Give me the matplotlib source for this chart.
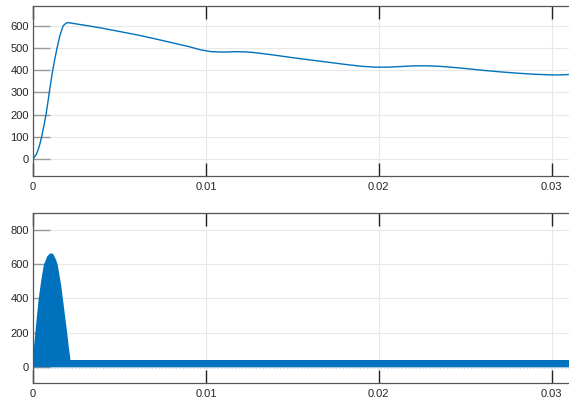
import numpy as np
import matplotlib.pyplot as plt

plt.rcParams['font.family'] = ['Liberation Sans', 'DejaVu Sans']

# top trace: rise then slow decay
t_top = [0, 0.0001, 0.0002, 0.0003, 0.0004, 0.0005, 0.0006, 0.00068, 0.00075, 0.00085,
         0.00094, 0.00104, 0.00114, 0.00126, 0.00139, 0.00155, 0.00174, 0.0019, 0.00203, 0.003,
         0.004, 0.005, 0.006, 0.007, 0.008, 0.009, 0.0097, 0.0103, 0.011, 0.0118,
         0.0125, 0.013, 0.014, 0.015, 0.016, 0.017, 0.018, 0.019, 0.0198, 0.0205,
         0.0213, 0.022, 0.0228, 0.0235, 0.024, 0.025, 0.026, 0.027, 0.028, 0.029,
         0.030, 0.0305, 0.031]
v_top = [0, 10, 22, 42, 68, 100, 138, 170, 200, 250,
         300, 350, 400, 450, 500, 555, 600, 612, 615, 603,
         590, 575, 560, 543, 525, 507, 492, 484, 482, 484,
         482, 478, 468, 457, 447, 437, 427, 418, 414, 414,
         417, 420, 420, 418, 415, 408, 400, 393, 387, 382,
         379, 379, 381]

# bottom trace: switching signal envelope
t_env = [0, 0.00015, 0.0003, 0.00045, 0.0006, 0.0008, 0.00095, 0.00104, 0.00115, 0.0013,
         0.0014, 0.0016, 0.0017, 0.00185, 0.00195, 0.00205, 0.00214, 0.031]
v_env = [90, 250, 400, 510, 600, 650, 665, 667, 662, 630,
         600, 480, 400, 280, 200, 110, 42, 42]
band_top = 42

fig = plt.figure(figsize=(5.69, 4.0), dpi=100)
ax1 = fig.add_axes([0.058, 0.56, 0.942, 0.425])
ax2 = fig.add_axes([0.058, 0.0425, 0.942, 0.425])

blue = '#0072BD'
ax1.plot(t_top, v_top, color=blue, lw=1.0)
ax2.fill_between(t_env, 0, v_env, color=blue, lw=0)
ax2.fill_between([0, 0.031], -3, band_top, color=blue, lw=0)
ax2.plot([0, 0.031], [-5, -5], color=blue, lw=0.5, ls=(0, (2, 3)), alpha=0.35)

for ax, yt, yl in [(ax1, np.arange(0, 601, 100), (-77, 690)),
                   (ax2, np.arange(0, 801, 200), (-95, 900))]:
    ax.set_xlim(0, 0.031)
    ax.set_ylim(*yl)
    ax.set_yticks(yt)
    ax.set_xticks([0, 0.01, 0.02, 0.03])
    ax.set_xticklabels(['0', '0.01', '0.02', '0.03'])
    ax.set_axisbelow(True)
    ax.grid(True, color='#e8e8e8', lw=0.8)
    ax.tick_params(axis='y', direction='in', length=12.5, width=1.0, color='#999999',
                   labelsize=8, labelcolor='#262626', pad=3, right=False)
    ax.tick_params(axis='x', direction='in', length=9.5, width=1.0, color='#222222',
                   labelsize=8, labelcolor='#262626', pad=4, top=True)
    for s in ['left', 'top', 'bottom']:
        ax.spines[s].set_color('#555555')
        ax.spines[s].set_linewidth(0.9)
    ax.spines['right'].set_visible(False)

fig.savefig('out.png', dpi=100)
